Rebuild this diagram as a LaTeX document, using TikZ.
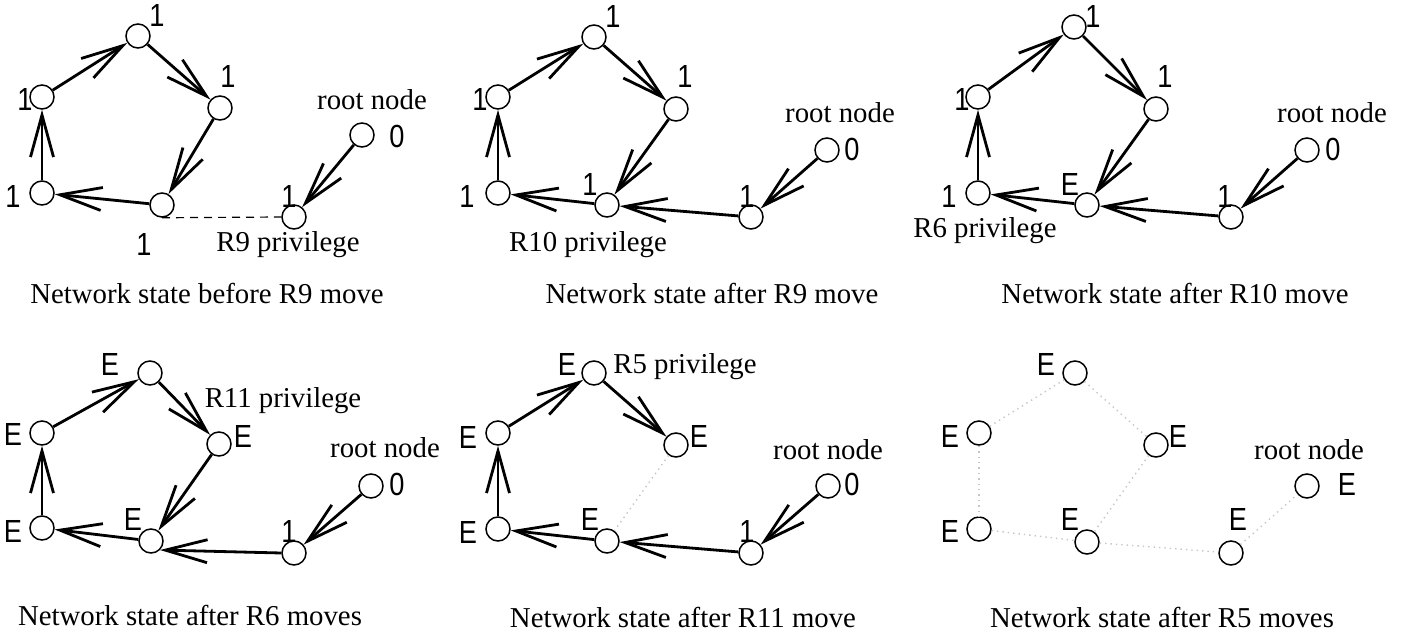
\documentclass[tikz,border=0pt]{standalone}
\usepackage{fontspec}
\setmainfont{Liberation Serif}
\setsansfont{Liberation Sans}
\newfontfamily\labfont{Liberation Sans}[FakeStretch=0.85]
\usetikzlibrary{arrows.meta}
\tikzset{
  vtx/.style={circle,draw,line width=0.75pt,minimum size=12pt,inner sep=0pt},
  lab/.style={font=\labfont\fontsize{16}{18}\selectfont,inner sep=0pt},
  txt/.style={font=\fontsize{14.4}{17}\selectfont,inner sep=0pt},
  arr/.style={line width=1.4pt,-{Straight Barb[length=21pt,width=11.5pt]}},
  dashline/.style={line width=0.6pt,dash pattern=on 4pt off 3pt},
  faint/.style={gray!45,line width=0.7pt,dotted}
}
\begin{document}
\begin{tikzpicture}[x=0.5pt,y=-0.5pt]
\useasboundingbox (0,0) rectangle (1404,637);
% ---------- Panel 1 ----------
\node[vtx] (p1t) at (138,36) {};
\node[vtx] (p1r) at (220,108) {};
\node[vtx] (p1ul) at (42,97) {};
\node[vtx] (p1bl) at (42,193) {};
\node[vtx] (p1bm) at (162,205) {};
\node[vtx] (p1lr) at (294,217) {};
\node[vtx] (p1rt) at (362,135) {};
\draw[arr] (p1ul) -- (p1t);
\draw[arr] (p1t) -- (p1r);
\draw[arr] (p1r) -- (p1bm);
\draw[arr] (p1bm) -- (p1bl);
\draw[arr] (p1bl) -- (p1ul);
\draw[arr] (p1rt) -- (p1lr);
\draw[dashline] (p1bm.south) -- (p1lr.west);
\node[lab] (l1a) at (157,15) {1};
\node[lab] (l1b) at (228,76) {1};
\node[lab] (l1c) at (25,99) {1};
\node[lab] (l1d) at (13,196) {1};
\node[lab] (l1e) at (144,244) {1};
\node[lab] (l1f) at (289,196) {1};
\node[lab] (l1g) at (397,136) {0};
\node[txt] (r1) at (372,100) {root node};
\node[txt] (v1) at (288,245) {R9 privilege};
\node[txt] (c1) at (207,293) {Network state before R9 move};
% ---------- Panel 2 ----------
\node[vtx] (p2t) at (594,37) {};
\node[vtx] (p2r) at (676,109) {};
\node[vtx] (p2ul) at (498,97) {};
\node[vtx] (p2bl) at (498,193) {};
\node[vtx] (p2bm) at (607,205) {};
\node[vtx] (p2lr) at (751,217) {};
\node[vtx] (p2rt) at (827,150) {};
\draw[arr] (p2ul) -- (p2t);
\draw[arr] (p2t) -- (p2r);
\draw[arr] (p2r) -- (p2bm);
\draw[arr] (p2bm) -- (p2bl);
\draw[arr] (p2bl) -- (p2ul);
\draw[arr] (p2lr) -- (p2bm);
\draw[arr] (p2rt) -- (p2lr);
\node[lab] (l2a) at (613,16) {1};
\node[lab] (l2b) at (685,76) {1};
\node[lab] (l2c) at (480,99) {1};
\node[lab] (l2d) at (467,196) {1};
\node[lab] (l2e) at (590,184) {1};
\node[lab] (l2f) at (747,196) {1};
\node[lab] (l2g) at (852,149) {0};
\node[txt] (r2) at (840,113) {root node};
\node[txt] (v2) at (588,245) {R10 privilege};
\node[txt] (c2) at (712,293) {Network state after R9 move};
% ---------- Panel 3 ----------
\node[vtx] (p3t) at (1074,27) {};
\node[vtx] (p3r) at (1156,109) {};
\node[vtx] (p3ul) at (978,97) {};
\node[vtx] (p3bl) at (978,193) {};
\node[vtx] (p3bm) at (1087,205) {};
\node[vtx] (p3lr) at (1231,217) {};
\node[vtx] (p3rt) at (1307,150) {};
\draw[arr] (p3ul) -- (p3t);
\draw[arr] (p3t) -- (p3r);
\draw[arr] (p3r) -- (p3bm);
\draw[arr] (p3bm) -- (p3bl);
\draw[arr] (p3bl) -- (p3ul);
\draw[arr] (p3lr) -- (p3bm);
\draw[arr] (p3rt) -- (p3lr);
\node[lab] (l3a) at (1093,16) {1};
\node[lab] (l3b) at (1165,76) {1};
\node[lab] (l3c) at (962,99) {1};
\node[lab] (l3d) at (949,196) {1};
\node[lab] (l3e) at (1070,184) {E};
\node[lab] (l3f) at (1225,196) {1};
\node[lab] (l3g) at (1333,149) {0};
\node[txt] (r3) at (1332,113) {root node};
\node[txt] (v3) at (985,231) {R6 privilege};
\node[txt] (c3) at (1175,293) {Network state after R10 move};
% ---------- Panel 4 ----------
\node[vtx] (p4t) at (150,373) {};
\node[vtx] (p4r) at (219,444) {};
\node[vtx] (p4ul) at (42,433) {};
\node[vtx] (p4bl) at (42,528) {};
\node[vtx] (p4bm) at (151,541) {};
\node[vtx] (p4lr) at (294,553) {};
\node[vtx] (p4rt) at (371,486) {};
\draw[arr] (p4ul) -- (p4t);
\draw[arr] (p4t) -- (p4r);
\draw[arr] (p4r) -- (p4bm);
\draw[arr] (p4bm) -- (p4bl);
\draw[arr] (p4bl) -- (p4ul);
\draw[arr] (p4lr.west) -- (p4bm.south east);
\draw[arr] (p4rt) -- (p4lr);
\node[lab] (l4a) at (110,364) {E};
\node[lab] (l4b) at (243,436) {E};
\node[lab] (l4c) at (13,434) {E};
\node[lab] (l4d) at (13,531) {E};
\node[lab] (l4e) at (133,519) {E};
\node[lab] (l4f) at (289,531) {1};
\node[lab] (l4g) at (397,484) {0};
\node[txt] (r4) at (385,448) {root node};
\node[txt] (v4) at (283,401) {R11 privilege};
\node[txt] (c4) at (190,615) {Network state after R6 moves};
% ---------- Panel 5 ----------
\node[vtx] (p5t) at (594,373) {};
\node[vtx] (p5r) at (676,445) {};
\node[vtx] (p5ul) at (498,433) {};
\node[vtx] (p5bl) at (498,529) {};
\node[vtx] (p5bm) at (607,541) {};
\node[vtx] (p5lr) at (751,553) {};
\node[vtx] (p5rt) at (828,486) {};
\draw[arr] (p5ul) -- (p5t);
\draw[arr] (p5t) -- (p5r);
\draw[arr] (p5bl) -- (p5ul);
\draw[arr] (p5bm) -- (p5bl);
\draw[arr] (p5lr) -- (p5bm);
\draw[arr] (p5rt) -- (p5lr);
\draw[faint] (p5r) -- (p5bm);
\node[lab] (l5a) at (567,364) {E};
\node[lab] (l5b) at (699,436) {E};
\node[lab] (l5c) at (468,437) {E};
\node[lab] (l5d) at (468,532) {E};
\node[lab] (l5e) at (590,519) {E};
\node[lab] (l5f) at (747,531) {1};
\node[lab] (l5g) at (852,484) {0};
\node[txt] (r5) at (828,450) {root node};
\node[txt] (v5) at (685,367) {R5 privilege};
\node[txt] (c5) at (683,617) {Network state after R11 move};
% ---------- Panel 6 ----------
\node[vtx] (p6t) at (1075,373) {};
\node[vtx] (p6r) at (1156,445) {};
\node[vtx] (p6ul) at (979,433) {};
\node[vtx] (p6bl) at (979,529) {};
\node[vtx] (p6bm) at (1087,542) {};
\node[vtx] (p6lr) at (1231,553) {};
\node[vtx] (p6rt) at (1307,486) {};
\draw[faint] (p6ul) -- (p6t);
\draw[faint] (p6t) -- (p6r);
\draw[faint] (p6r) -- (p6bm);
\draw[faint] (p6bm) -- (p6lr);
\draw[faint] (p6lr) -- (p6rt);
\draw[faint] (p6bl) -- (p6bm);
\draw[faint] (p6ul) -- (p6bl);
\node[lab] (l6a) at (1046,364) {E};
\node[lab] (l6b) at (1178,436) {E};
\node[lab] (l6c) at (950,436) {E};
\node[lab] (l6d) at (950,531) {E};
\node[lab] (l6e) at (1070,519) {E};
\node[lab] (l6f) at (1238,519) {E};
\node[lab] (l6g) at (1347,484) {E};
\node[txt] (r6) at (1309,450) {root node};
\node[txt] (c6) at (1162,617) {Network state after R5 moves};
\end{tikzpicture}
\end{document}
